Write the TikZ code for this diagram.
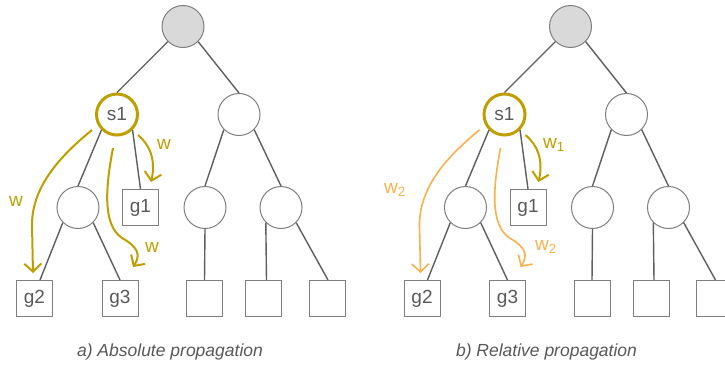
\documentclass[tikz,border=0pt]{standalone}
\usepackage{fontspec}
\setmainfont{Liberation Sans}
\usetikzlibrary{arrows.meta}
\definecolor{gold}{HTML}{BF9F00}
\definecolor{orng}{HTML}{F7B24E}
\definecolor{edgegray}{HTML}{5F5F5F}
\definecolor{bordgray}{HTML}{7F7F7F}
\definecolor{txtgray}{HTML}{595959}
\definecolor{rootfill}{HTML}{D9D9D9}
\tikzset{
  circ/.style={circle, draw=bordgray, line width=1pt, fill=white, minimum size=42pt, inner sep=0pt, text=txtgray, font=\fontsize{19}{22}\selectfont},
  rootc/.style={circ, fill=rootfill},
  selc/.style={circ, draw=gold, line width=3pt, minimum size=41pt},
  leafbox/.style={rectangle, draw=bordgray, line width=1pt, fill=white, minimum size=36pt, inner sep=0pt, text=txtgray, font=\fontsize{19}{22}\selectfont},
  tedge/.style={draw=edgegray, line width=1.4pt},
  garrow/.style={draw=gold, line width=2pt, -{Straight Barb[length=8pt,width=17pt]}},
  oarrow/.style={draw=orng, line width=1.6pt, -{Straight Barb[length=8pt,width=17pt]}},
  glbl/.style={text=gold, font=\fontsize{19}{22}\selectfont, inner sep=0pt},
  olbl/.style={text=orng, font=\fontsize{19}{22}\selectfont, inner sep=0pt},
  captext/.style={text=txtgray, font=\itshape\fontsize{17.5}{20}\selectfont, inner sep=0pt}
}
\newcommand{\mytree}[2]{%
\begin{scope}[xshift=#2]
  \node[rootc] (#1r) at (183,26.5) {};
  \node[selc] (#1s) at (117,114.5) {s1};
  \node[circ] (#1c1) at (239,114.5) {};
  \node[circ] (#1c2) at (78,207.5) {};
  \node[leafbox] (#1g1) at (140.5,207.5) {g1};
  \node[circ] (#1c3) at (205,207.5) {};
  \node[circ] (#1c4) at (281,207.5) {};
  \node[leafbox] (#1b1) at (34.5,298.5) {g2};
  \node[leafbox] (#1b2) at (120,298.5) {g3};
  \node[leafbox] (#1b3) at (204.5,298.5) {};
  \node[leafbox] (#1b4) at (263.5,298.5) {};
  \node[leafbox] (#1b5) at (327,298.5) {};
  \draw[tedge] (#1r.south west) -- (#1s.north);
  \draw[tedge] (#1r.south east) -- (#1c1.north);
  \draw[tedge] (#1s.south west) -- (#1c2.north);
  \draw[tedge] (#1s.south east) -- (#1g1.north);
  \draw[tedge] (#1c2.south west) -- ([xshift=5.5pt]#1b1.north);
  \draw[tedge] (#1c2.south east) -- (#1b2.north);
  \draw[tedge] (#1c1.south west) -- (#1c3.north);
  \draw[tedge] (#1c1.south east) -- (#1c4.north);
  \draw[tedge] (#1c3.south) -- (#1b3.north);
  \draw[tedge] (#1c4.south west) -- ([xshift=3pt]#1b4.north);
  \draw[tedge] (#1c4.south east) -- ([xshift=1pt]#1b5.north);
\end{scope}}
\newcommand{\myarrows}[4]{%
\begin{scope}[xshift=#2]
  \coordinate (#1a1s) at (92,130);
  \coordinate (#1a1m) at (32,225);
  \coordinate (#1a1e) at (33,273);
  \coordinate (#1a2s) at (113,148);
  \coordinate (#1a2m) at (122,238);
  \coordinate (#1a2e) at (133,267);
  \coordinate (#1a3s) at (138,135);
  \coordinate (#1a3e) at (151,182);
  \draw[#3] (#1a1s) .. controls (55,160) and (32,190) .. (#1a1m) -- (#1a1e);
  \draw[#3] (#1a2s) .. controls (105,190) and (103,225) .. (#1a2m) .. controls (138,247) and (141,255) .. (#1a2e);
  \draw[#4] (#1a3s) .. controls (150,145) and (156,160) .. (#1a3e);
\end{scope}}
\begin{document}
\begin{tikzpicture}[x=1pt,y=-1pt]
  \fill[white] (0,0) rectangle (725,364);
  \useasboundingbox (0,0) rectangle (725,364);
  \mytree{a}{0pt}
  \mytree{b}{387.5pt}
  \myarrows{a}{0pt}{garrow}{garrow}
  \myarrows{b}{387.5pt}{oarrow}{garrow}
  \node[glbl] (wa1) at (16,201) {w};
  \node[glbl] (wa3) at (164,144) {w};
  \node[glbl] (wa2) at (152,247) {w};
  \node[olbl] (wb1) at (395,190) {w\textsubscript{2}};
  \node[glbl] (wb3) at (554,145) {w\textsubscript{1}};
  \node[olbl] (wb2) at (546,247) {w\textsubscript{2}};
  \node[captext] (capa) at (170,352) {a) Absolute propagation};
  \node[captext] (capb) at (546.5,352) {b) Relative propagation};
\end{tikzpicture}
\end{document}
